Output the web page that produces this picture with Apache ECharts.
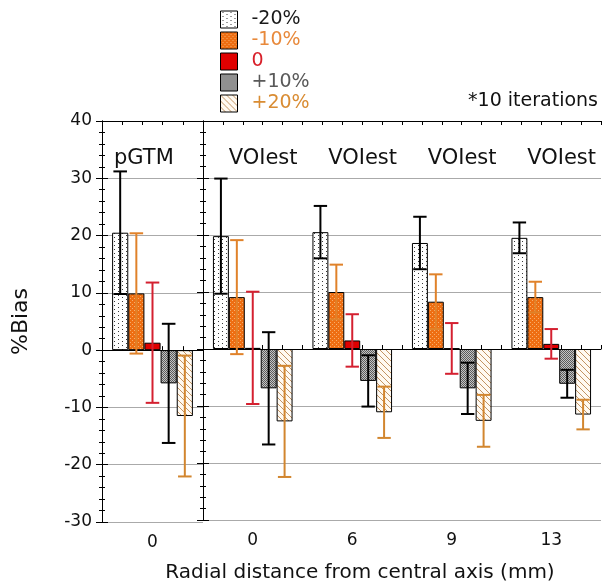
<!DOCTYPE html>
<html>
<head>
<meta charset="utf-8">
<script src="https://cdn.jsdelivr.net/npm/echarts@6/dist/echarts.min.js"></script>
<style>
html,body{margin:0;padding:0;background:#fff;}
#chart{width:606px;height:588px;}
</style>
</head>
<body>
<div id="chart"></div>
<script>
// ---- data ----
const categories = ['0', '0', '6', '9', '13'];
const panelLabels = ['pGTM', 'VOIest', 'VOIest', 'VOIest', 'VOIest'];
const seriesNames = ['-20%', '-10%', '0', '+10%', '+20%'];
const meanM20 = [20.5, 19.8, 20.5, 18.6, 19.5];
const errM20  = [10.7, 10.1, 4.6, 4.6, 2.7];
const meanM10 = [9.9, 9.1, 10.0, 8.3, 9.1];
const errM10  = [10.5, 10.0, 4.8, 4.8, 2.7];
const mean0   = [1.3, 0.2, 1.5, 0.1, 0.9];
const err0    = [10.5, 9.85, 4.6, 4.45, 2.6];
const meanP10 = [-5.8, -6.9, -5.6, -6.9, -6.1];
const errP10  = [10.4, 9.85, 4.5, 4.5, 2.45];
const meanP20 = [-11.5, -12.7, -11.1, -12.6, -11.5];
const errP20  = [10.55, 9.75, 4.5, 4.55, 2.6];
const yTicks = { min: -30, max: 40, interval: 10 };
const xAxisTitle = 'Radial distance from central axis (mm)';
const yAxisTitle = '%Bias';
const noteText = '*10 iterations';
const labelLevel = 33.6;

const means = [meanM20, meanM10, mean0, meanP10, meanP20];
const errs = [errM20, errM10, err0, errP10, errP20];

// ---- styles ----
const FONT = 'DejaVu Sans';
function makePattern(w, h, draw) {
  const c = document.createElement('canvas');
  c.width = w; c.height = h;
  const ctx = c.getContext('2d');
  draw(ctx);
  return { image: c, repeat: 'repeat' };
}
const fills = [
  makePattern(8, 4, ctx => { ctx.fillStyle = '#ffffff'; ctx.fillRect(0,0,8,4); ctx.fillStyle = '#3a3a3a'; ctx.fillRect(2,1,1,1); ctx.fillRect(6,3,1,1); }),
  makePattern(4, 4, ctx => { ctx.fillStyle = '#ee6e12'; ctx.fillRect(0,0,4,4); ctx.fillStyle = '#f7ad6a'; ctx.fillRect(0,0,1,1); ctx.fillRect(2,2,1,1); }),
  '#e00000',
  makePattern(2, 2, ctx => { ctx.fillStyle = '#c4c4c4'; ctx.fillRect(0,0,2,2); ctx.fillStyle = '#5c5c5c'; ctx.fillRect(0,0,1,1); ctx.fillRect(1,1,1,1); }),
  makePattern(6, 6, ctx => { ctx.fillStyle = '#fffaf2'; ctx.fillRect(0,0,6,6); ctx.strokeStyle = '#c39463'; ctx.lineWidth = 1; ctx.beginPath(); ctx.moveTo(-1,-1); ctx.lineTo(7,7); ctx.moveTo(5,-1); ctx.lineTo(7,1); ctx.moveTo(-1,5); ctx.lineTo(1,7); ctx.stroke(); })
];
const errColors = ['#000000', '#e0822a', '#d42030', '#000000', '#d2862f'];
const legendColors = ['#1a1a1a', '#e8893b', '#d8202a', '#595959', '#d98c33'];
const BAR_FRAC = 0.16;

// ---- panels ----
const panels = [
  { cats: [0], xCat: 0, yMain: 0 },
  { cats: [1, 2, 3, 4], xCat: 1, yMain: 2 }
];

const chart = echarts.init(document.getElementById('chart'), null, { renderer: 'canvas' });

const grids = [
  { left: 102, top: 121, width: 101, height: 401, containLabel: false },
  { left: 203, top: 121, width: 398, height: 401, containLabel: false }
];

const tickAxisCommon = {
  type: 'value', interval: 1, min: 0,
  axisLine: { show: true, lineStyle: { color: '#000', width: 1 } },
  axisTick: { show: true, inside: true, length: 4, lineStyle: { color: '#000' } },
  axisLabel: { show: false }, splitLine: { show: false }, silent: true
};
const catLabel = { fontSize: 17, color: '#111', fontFamily: FONT, margin: 12 };
const xAxes = [
  { type: 'category', gridIndex: 0, data: panels[0].cats.map(i => categories[i]),
    axisLine: { show: false }, axisTick: { show: false }, axisLabel: catLabel },
  { type: 'category', gridIndex: 1, data: panels[1].cats.map(i => categories[i]),
    axisLine: { show: false }, axisTick: { show: false }, axisLabel: catLabel,
    name: xAxisTitle, nameLocation: 'middle', nameGap: 43,
    nameTextStyle: { fontSize: 20, color: '#111', fontFamily: FONT, padding: [0, 84, 0, 0] } },
  Object.assign({}, tickAxisCommon, { gridIndex: 0, position: 'bottom', max: 5 }),
  Object.assign({}, tickAxisCommon, { gridIndex: 1, position: 'bottom', max: 20 }),
  Object.assign({}, tickAxisCommon, { gridIndex: 0, position: 'top', max: 5 }),
  Object.assign({}, tickAxisCommon, { gridIndex: 1, position: 'top', max: 20 })
];

const yCommon = {
  type: 'value', min: yTicks.min, max: yTicks.max, interval: yTicks.interval,
  axisLine: { show: true, lineStyle: { color: '#000', width: 1 } },
  axisTick: { show: true, inside: true, length: 6, lineStyle: { color: '#000' } },
  minorTick: { show: true, splitNumber: 5, length: 3, lineStyle: { color: '#000' } },
  splitLine: { show: false }
};
const yAxes = [
  Object.assign({}, yCommon, { gridIndex: 0, position: 'left',
    axisLabel: { fontSize: 17, color: '#111', fontFamily: FONT, margin: 10 },
    splitLine: { show: true, lineStyle: { color: '#aaaaaa', width: 1 } },
    name: yAxisTitle, nameLocation: 'middle', nameGap: 70, nameRotate: 90,
    nameTextStyle: { fontSize: 22, color: '#111', fontFamily: FONT } }),
  Object.assign({}, yCommon, { gridIndex: 0, position: 'right', axisLabel: { show: false } }),
  Object.assign({}, yCommon, { gridIndex: 1, position: 'left', axisLabel: { show: false },
    splitLine: { show: true, lineStyle: { color: '#aaaaaa', width: 1 } } }),
  Object.assign({}, yCommon, { gridIndex: 1, position: 'right', axisLabel: { show: false } })
];

const series = [];
panels.forEach((p, pi) => {
  seriesNames.forEach((name, si) => {
    const s = {
      type: 'bar', name: name, xAxisIndex: p.xCat, yAxisIndex: p.yMain,
      data: p.cats.map(ci => means[si][ci]),
      barWidth: (BAR_FRAC * 100) + '%', barGap: '0%',
      itemStyle: { color: fills[si], borderColor: '#000', borderWidth: 1 },
      emphasis: { disabled: true }, silent: true, z: 2
    };
    if (si === 0) {
      s.markLine = { silent: true, symbol: ['none', 'none'], label: { show: false },
        lineStyle: { color: '#000', width: 1, type: 'solid' }, data: [{ yAxis: 0 }], z: 3 };
    }
    series.push(s);
  });
  // error bars
  const errData = [];
  p.cats.forEach((ci, k) => {
    seriesNames.forEach((n, si) => errData.push([k, si, means[si][ci], errs[si][ci]]));
  });
  series.push({
    type: 'custom', xAxisIndex: p.xCat, yAxisIndex: p.yMain, z: 5, silent: true,
    data: errData, encode: { x: 0, y: 2 },
    renderItem: function (params, api) {
      const k = api.value(0), si = api.value(1), m = api.value(2), e = api.value(3);
      const c = api.coord([k, m]);
      const bw = api.size([1, 0])[0];
      const barW = bw * BAR_FRAC;
      const x = c[0] + (si - 2) * barW;
      const yt = api.coord([k, m + e])[1];
      const yb = api.coord([k, m - e])[1];
      const hw = barW * 0.42;
      const st = { stroke: errColors[si], lineWidth: 2 };
      return { type: 'group', children: [
        { type: 'line', shape: { x1: x, y1: yt, x2: x, y2: yb }, style: st },
        { type: 'line', shape: { x1: x - hw, y1: yt, x2: x + hw, y2: yt }, style: st },
        { type: 'line', shape: { x1: x - hw, y1: yb, x2: x + hw, y2: yb }, style: st }
      ] };
    }
  });
  // panel labels
  series.push({
    type: 'custom', xAxisIndex: p.xCat, yAxisIndex: p.yMain, z: 6, silent: true,
    data: p.cats.map((ci, k) => [k, labelLevel, ci]), encode: { x: 0, y: 1 },
    renderItem: function (params, api) {
      const k = api.value(0), ci = api.value(2);
      const c = api.coord([k, api.value(1)]);
      const bw = api.size([1, 0])[0];
      const isFirst = pi === 0;
      return { type: 'text', x: isFirst ? c[0] - bw / 2 + 12 : c[0] + bw / 2 - 5, y: c[1] + 1,
        style: { text: panelLabels[ci], fontSize: 21, fontFamily: FONT, fill: '#111',
          align: isFirst ? 'left' : 'right', verticalAlign: 'middle' } };
    }
  });
});

const option = {
  animation: false,
  backgroundColor: '#ffffff',
  textStyle: { fontFamily: FONT },
  title: { text: noteText, right: 3, top: 87,
    textStyle: { fontSize: 19, fontWeight: 'normal', color: '#111', fontFamily: FONT } },
  legend: {
    orient: 'vertical', left: 215, top: 5, itemWidth: 17, itemHeight: 17, itemGap: 2,
    icon: 'rect', selectedMode: false,
    itemStyle: { borderColor: '#000', borderWidth: 1 },
    textStyle: { fontSize: 19, fontFamily: FONT, padding: [0, 0, 0, 9] },
    data: seriesNames.map((n, i) => ({ name: n, textStyle: { color: legendColors[i] } }))
  },
  grid: grids,
  xAxis: xAxes,
  yAxis: yAxes,
  series: series
};
chart.setOption(option);
</script>
</body>
</html>
